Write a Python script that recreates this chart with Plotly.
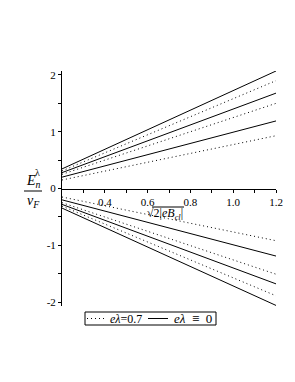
import plotly.graph_objects as go

# data (straight lines, endpoints)
x_vals = [0.2, 1.2]
solid_pos = [[0.20, 1.19], [0.28, 1.68], [0.345, 2.07]]
dotted_pos = [[0.15, 0.93], [0.25, 1.50], [0.31, 1.90]]
solid_neg = [[-0.20, -1.19], [-0.28, -1.68], [-0.345, -2.06]]
dotted_neg = [[-0.15, -0.92], [-0.25, -1.51], [-0.31, -1.89]]
y_tickvals = [-2, -1, 0, 1, 2]
y_ticktext = ["-2", "-1", "0", "1", "2"]
x_tickvals = [0.4, 0.6, 0.8, 1.0, 1.2]
x_ticktext = ["0.4", "0.6", "0.8", "1.0", "1.2"]
label_dot = "<i>eλ</i>=0.7"
label_solid = "<i>eλ</i>\u2002≡\u20020"

FONT = "Liberation Serif"
W, H = 295, 382
L, R, T, B = 54, 27, 63, 84
YR = [-2.07, 2.07]
DOT = "1px,3px"

fig = go.Figure()
for ys in dotted_pos + dotted_neg:
    fig.add_trace(go.Scatter(x=x_vals, y=ys, mode="lines",
                             line=dict(color="black", width=1, dash=DOT),
                             name=label_dot, showlegend=False))
for ys in solid_pos + solid_neg:
    fig.add_trace(go.Scatter(x=x_vals, y=ys, mode="lines",
                             line=dict(color="black", width=1),
                             name=label_solid, showlegend=False))

pw = W - L - R
ph = H - T - B
def px(xp):
    return (xp - L) / pw
def py(yp):
    return (H - B - yp) / ph

fig.update_layout(
    width=W, height=H,
    margin=dict(l=L, r=R, t=T, b=B, pad=0),
    paper_bgcolor="white", plot_bgcolor="white",
    font=dict(family=FONT, size=11, color="black"),
    xaxis=dict(range=[0.2, 1.2], anchor="free", position=(0 - YR[0]) / (YR[1] - YR[0]),
               showline=True, linecolor="black", linewidth=1, showgrid=False, zeroline=False,
               tickvals=x_tickvals, ticktext=x_ticktext, ticks="outside", ticklen=3,
               tickcolor="black", tickwidth=1,
               minor=dict(tickvals=[0.3, 0.5, 0.7, 0.9, 1.1], ticks="outside", ticklen=3,
                          tickcolor="black", tickwidth=1),
               tickfont=dict(family=FONT, size=11)),
    yaxis=dict(range=YR, showline=True, linecolor="black", linewidth=1, showgrid=False,
               zeroline=False, tickvals=y_tickvals, ticktext=y_ticktext, ticks="outside",
               ticklen=3, tickcolor="black", tickwidth=1,
               minor=dict(tickvals=[-1.5, -0.5, 0.5, 1.5], ticks="outside", ticklen=3,
                          tickcolor="black", tickwidth=1),
               tickfont=dict(family=FONT, size=11)),
    showlegend=False,
)

# y-axis label as a fraction
fig.add_annotation(xref="paper", yref="paper", x=px(25), y=py(173),
                   text="<i>E</i><sub><i>n</i></sub>", showarrow=False,
                   font=dict(family=FONT, size=14), xanchor="center", yanchor="middle")
fig.add_annotation(xref="paper", yref="paper", x=px(29), y=py(164),
                   text="λ", showarrow=False,
                   font=dict(family=FONT, size=10), xanchor="center", yanchor="middle")
fig.add_shape(type="line", xref="paper", yref="paper", x0=px(16), x1=px(34),
              y0=py(183), y1=py(183), line=dict(color="black", width=1))
fig.add_annotation(xref="paper", yref="paper", x=px(25), y=py(193),
                   text="<i>v</i><sub><i>F</i></sub>", showarrow=False,
                   font=dict(family=FONT, size=14), xanchor="center", yanchor="middle")

# x-axis label
fig.add_annotation(xref="paper", yref="paper", x=px(137), y=py(206),
                   text="√2|<i>eB</i><sub><i>cl</i></sub>|", showarrow=False,
                   font=dict(family=FONT, size=12), xanchor="left", yanchor="middle")
fig.add_shape(type="line", xref="paper", yref="paper", x0=px(144), x1=px(176),
              y0=py(199), y1=py(199), line=dict(color="black", width=1))

# legend (drawn by hand to match the compact box)
fig.add_shape(type="rect", xref="paper", yref="paper", x0=px(77), x1=px(208),
              y0=py(317), y1=py(304), line=dict(color="black", width=1),
              fillcolor="white")
fig.add_shape(type="line", xref="paper", yref="paper", x0=px(79), x1=px(97),
              y0=py(310.5), y1=py(310.5), line=dict(color="black", width=1, dash=DOT))
fig.add_annotation(xref="paper", yref="paper", x=px(100), y=py(310.5),
                   text=label_dot, showarrow=False,
                   font=dict(family=FONT, size=12), xanchor="left", yanchor="middle")
fig.add_shape(type="line", xref="paper", yref="paper", x0=px(140), x1=px(160),
              y0=py(310.5), y1=py(310.5), line=dict(color="black", width=1))
fig.add_annotation(xref="paper", yref="paper", x=px(164), y=py(310.5),
                   text=label_solid, showarrow=False,
                   font=dict(family=FONT, size=13), xanchor="left", yanchor="middle")

fig.write_html("out.html")
